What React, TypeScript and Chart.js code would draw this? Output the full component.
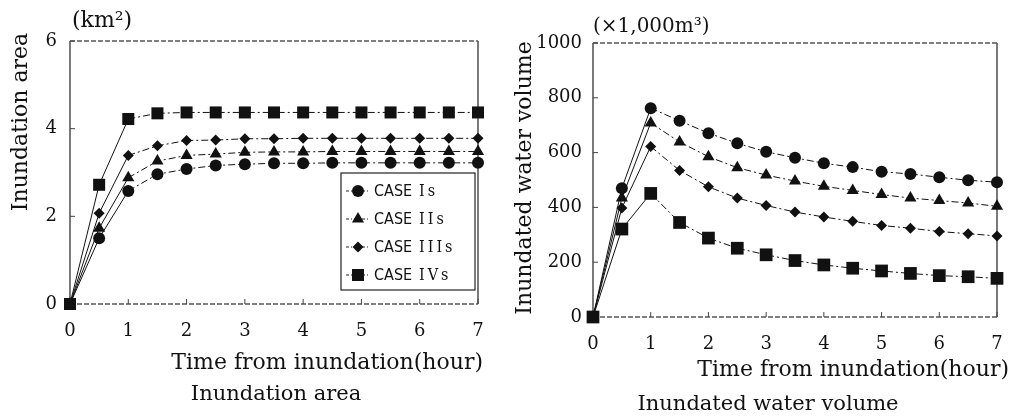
import React, { useEffect, useRef } from 'react';
import { Chart, registerables } from 'chart.js';
import { drawPoint } from 'chart.js/helpers';

Chart.register(...registerables);

// ---------- data ----------
const hours = [0, 0.5, 1, 1.5, 2, 2.5, 3, 3.5, 4, 4.5, 5, 5.5, 6, 6.5, 7];

const caseNames = ['CASE Is', 'CASE IIs', 'CASE IIIs', 'CASE IVs'];
const caseStyles = ['circle', 'triangle', 'rectRot', 'rect'];

// Inundation area (km2)
const areaIs = [0, 1.5, 2.58, 2.96, 3.08, 3.16, 3.19, 3.21, 3.21, 3.22, 3.22, 3.22, 3.22, 3.22, 3.22];
const areaIIs = [0, 1.73, 2.88, 3.26, 3.39, 3.42, 3.46, 3.47, 3.47, 3.48, 3.48, 3.48, 3.48, 3.48, 3.48];
const areaIIIs = [0, 2.07, 3.39, 3.61, 3.73, 3.74, 3.77, 3.77, 3.78, 3.78, 3.78, 3.78, 3.78, 3.78, 3.78];
const areaIVs = [0, 2.72, 4.22, 4.35, 4.37, 4.37, 4.37, 4.37, 4.37, 4.37, 4.37, 4.37, 4.37, 4.37, 4.37];

// Inundated water volume (x1,000 m3)
const volIs = [0, 470, 762, 716, 671, 634, 603, 581, 561, 547, 530, 522, 510, 499, 492];
const volIIs = [0, 434, 708, 639, 585, 545, 518, 496, 477, 462, 447, 434, 425, 416, 404];
const volIIIs = [0, 398, 622, 535, 475, 434, 407, 383, 365, 349, 334, 324, 312, 304, 296];
const volIVs = [0, 321, 451, 345, 288, 251, 227, 206, 190, 178, 168, 159, 151, 147, 141];

const xTicks = [0, 1, 2, 3, 4, 5, 6, 7];
const xTitle = 'Time from inundation(hour)';

const SERIF = '"DejaVu Serif", "Liberation Serif", serif';
const LEGEND_FONT = '"DejaVu Sans Condensed", "DejaVu Sans", sans-serif';
const LEGEND_NUM_FONT = '"DejaVu Serif Condensed", "DejaVu Serif", serif';
const INK = '#111';

const leftRadii = [6, 7, 5.5, 8.5];
const rightRadii = [6, 7, 5.5, 9];

const decorPlugin = {
  id: 'decor',
  beforeDatasetsDraw(chart: any) {
    const { ctx, chartArea } = chart;
    const { left, right, top, bottom } = chartArea;
    ctx.save();
    ctx.strokeStyle = '#333';
    ctx.lineWidth = 1.3;
    ctx.beginPath();
    ctx.moveTo(left, top);
    ctx.lineTo(left, bottom);
    ctx.moveTo(right, top);
    ctx.lineTo(right, bottom);
    ctx.stroke();
    ctx.setLineDash([5, 2]);
    ctx.strokeStyle = '#555';
    ctx.beginPath();
    ctx.moveTo(left, top);
    ctx.lineTo(right, top);
    ctx.moveTo(left, bottom);
    ctx.lineTo(right, bottom);
    ctx.stroke();
    ctx.setLineDash([]);
    ctx.strokeStyle = '#444';
    ctx.lineWidth = 1;
    const ys = chart.scales.y;
    ys.ticks.forEach((t: any) => {
      const py = ys.getPixelForValue(t.value);
      ctx.beginPath();
      ctx.moveTo(left, py);
      ctx.lineTo(left + 5, py);
      ctx.stroke();
    });
    const xs = chart.scales.x;
    xs.ticks.forEach((t: any) => {
      const px = xs.getPixelForValue(t.value);
      ctx.beginPath();
      ctx.moveTo(px, bottom);
      ctx.lineTo(px, bottom - 5);
      ctx.stroke();
    });
    ctx.restore();
  },
  afterDraw(chart: any, _args: any, opts: any) {
    const { ctx, chartArea } = chart;
    ctx.save();
    ctx.fillStyle = INK;
    ctx.textBaseline = 'middle';
    // unit label
    ctx.font = `${opts.unitSize}px ${SERIF}`;
    ctx.textAlign = 'left';
    ctx.fillText(opts.unit, chartArea.left + opts.unitDx, chartArea.top + opts.unitDy);
    // x axis title (right aligned just past the plot edge)
    ctx.font = `22px ${SERIF}`;
    ctx.textAlign = 'right';
    ctx.fillText(xTitle, chartArea.right + opts.xTitleDx, chartArea.bottom + opts.xTitleDy);
    // y axis title
    ctx.save();
    ctx.translate(opts.yTitleX, opts.yTitleY);
    ctx.rotate(-Math.PI / 2);
    ctx.textAlign = 'center';
    ctx.fillText(opts.yTitle, 0, 0);
    ctx.restore();
    // caption
    ctx.font = `21px ${SERIF}`;
    ctx.textAlign = 'center';
    ctx.fillText(opts.caption, opts.captionX, opts.captionY);
    // legend
    if (opts.legend) {
      const bw = 134;
      const bh = 117;
      const bx = chartArea.right - 3 - bw;
      const by = chartArea.bottom - 14 - bh;
      ctx.strokeStyle = '#222';
      ctx.lineWidth = 1.2;
      ctx.strokeRect(bx, by, bw, bh);
      ctx.textAlign = 'left';
      chart.data.datasets.forEach((ds: any, i: number) => {
        const cy = by + 18 + i * 28;
        const mx = bx + 17;
        ctx.strokeStyle = '#222';
        ctx.lineWidth = 1;
        ctx.setLineDash([3, 2, 1, 2]);
        ctx.beginPath();
        ctx.moveTo(mx - 12, cy);
        ctx.lineTo(mx + 12, cy);
        ctx.stroke();
        ctx.setLineDash([]);
        ctx.fillStyle = INK;
        drawPoint(ctx, { pointStyle: ds.pointStyle, radius: ds.pointRadius, rotation: 0, borderWidth: 0 } as any, mx, cy);
        ctx.fillStyle = INK;
        const parts = String(ds.label).split(' ');
        ctx.font = `16px ${LEGEND_FONT}`;
        (ctx as any).letterSpacing = '0px';
        ctx.fillText(parts[0], bx + 33, cy + 1);
        ctx.font = `16px ${LEGEND_NUM_FONT}`;
        (ctx as any).letterSpacing = '3px';
        ctx.fillText(parts.slice(1).join(' '), bx + 78, cy + 1);
      });
    }
    ctx.restore();
  },
};

function makeDatasets(series: number[][], radii: number[]) {
  return series.map((vals, i) => ({
    label: caseNames[i],
    data: hours.map((h, j) => ({ x: h, y: vals[j] })),
    borderColor: INK,
    backgroundColor: INK,
    borderWidth: 1,
    pointStyle: caseStyles[i],
    pointRadius: radii[i],
    pointBorderWidth: 0,
    pointBackgroundColor: INK,
    tension: 0,
    clip: false,
    segment: {
      borderDash: (c: any) => (c.p0.parsed.x >= 1 ? [7, 3, 2, 3] : undefined),
    },
  }));
}

interface Spec {
  width: number;
  datasets: any[];
  yMax: number;
  yStep: number;
  yTitle: string;
  yTitleX: number;
  yTitleY: number;
  yWidth: number;
  yPad: number;
  padTop: number;
  padRight: number;
  xHeight: number;
  padBottom: number;
  xTitleDx: number;
  xTitleDy: number;
  unit: string;
  unitSize: number;
  unitDx: number;
  unitDy: number;
  caption: string;
  captionX: number;
  captionY: number;
  legend: boolean;
}

function buildConfig(s: Spec): any {
  return {
    type: 'line',
    data: { datasets: s.datasets },
    plugins: [decorPlugin],
    options: {
      responsive: false,
      animation: false,
      events: [],
      layout: { padding: { top: s.padTop, right: s.padRight, bottom: s.padBottom, left: 0 } },
      plugins: {
        legend: { display: false },
        tooltip: { enabled: false },
        decor: {
          unit: s.unit,
          unitSize: s.unitSize,
          unitDx: s.unitDx,
          unitDy: s.unitDy,
          xTitleDx: s.xTitleDx,
          xTitleDy: s.xTitleDy,
          yTitle: s.yTitle,
          yTitleX: s.yTitleX,
          yTitleY: s.yTitleY,
          caption: s.caption,
          captionX: s.captionX,
          captionY: s.captionY,
          legend: s.legend,
        },
      },
      scales: {
        x: {
          type: 'linear',
          min: 0,
          max: 7,
          afterBuildTicks: (scale: any) => {
            scale.ticks = xTicks.map((v) => ({ value: v }));
          },
          afterFit: (scale: any) => {
            scale.height = s.xHeight;
            scale.paddingLeft = 0;
            scale.paddingRight = 0;
          },
          grid: { display: false, drawTicks: false },
          border: { display: false },
          ticks: { color: INK, font: { family: SERIF, size: 18 }, padding: 17, maxRotation: 0 },
          title: { display: false },
        },
        y: {
          type: 'linear',
          min: 0,
          max: s.yMax,
          ticks: {
            stepSize: s.yStep,
            color: INK,
            font: { family: SERIF, size: 18 },
            padding: s.yPad,
            callback: (v: any) => String(v),
          },
          afterFit: (scale: any) => {
            scale.width = s.yWidth;
          },
          grid: { display: false, drawTicks: false },
          border: { display: false },
          title: { display: false },
        },
      },
    },
  };
}

function ChartCanvas({ spec, left }: { spec: Spec; left: number }) {
  const ref = useRef<HTMLCanvasElement | null>(null);
  useEffect(() => {
    if (!ref.current) return;
    const chart = new Chart(ref.current, buildConfig(spec));
    return () => chart.destroy();
  }, []);
  return (
    <canvas
      ref={ref}
      width={spec.width}
      height={419}
      style={{ position: 'absolute', left, top: 0, width: spec.width, height: 419 }}
    />
  );
}

const leftSpec: Spec = {
  width: 505,
  datasets: makeDatasets([areaIs, areaIIs, areaIIIs, areaIVs], leftRadii),
  yMax: 6,
  yStep: 2,
  yTitle: 'Inundation area',
  yTitleX: 21,
  yTitleY: 122,
  yWidth: 70,
  yPad: 13,
  padTop: 41,
  padRight: 27,
  xHeight: 72,
  padBottom: 43,
  xTitleDx: 5,
  xTitleDy: 59,
  unit: '(km²)',
  unitSize: 22,
  unitDx: 2,
  unitDy: -20,
  caption: 'Inundation area',
  captionX: 276,
  captionY: 395,
  legend: true,
};

const rightSpec: Spec = {
  width: 508,
  datasets: makeDatasets([volIs, volIIs, volIIIs, volIVs], rightRadii),
  yMax: 1000,
  yStep: 200,
  yTitle: 'Inundated water volume',
  yTitleX: 20,
  yTitleY: 178,
  yWidth: 88,
  yPad: 11,
  padTop: 43,
  padRight: 16,
  xHeight: 68,
  padBottom: 34,
  xTitleDx: 12,
  xTitleDy: 53,
  unit: '(×1,000m³)',
  unitSize: 20,
  unitDx: 0,
  unitDy: -16,
  caption: 'Inundated water volume',
  captionX: 263,
  captionY: 405,
  legend: false,
};

export default function App() {
  return (
    <div style={{ position: 'fixed', left: 0, top: 0, width: 1013, height: 419, background: '#fff', overflow: 'hidden' }}>
      <ChartCanvas spec={leftSpec} left={0} />
      <ChartCanvas spec={rightSpec} left={505} />
    </div>
  );
}
